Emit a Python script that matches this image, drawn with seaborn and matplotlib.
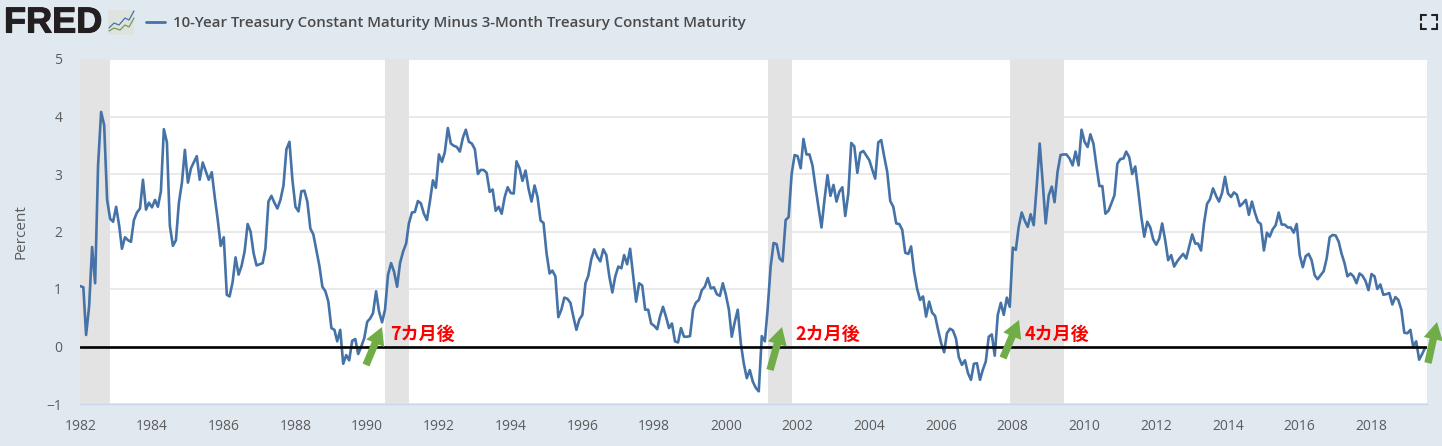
import matplotlib
matplotlib.use("Agg")
import pandas as pd
import matplotlib.pyplot as plt
import matplotlib.dates as mdates
import matplotlib.patheffects as pe
import seaborn as sns
from matplotlib.lines import Line2D
from matplotlib.patches import FancyBboxPatch

# =====================================
# Data, monthly from Jan 1982
# =====================================
y1982 = [1.05, 1.03, 0.20, 0.70, 1.73, 1.10, 3.15, 4.08, 3.85, 2.55, 2.22, 2.17]
y1983 = [2.43, 2.10, 1.70, 1.90, 1.85, 1.82, 2.20, 2.33, 2.40, 2.90, 2.38, 2.50]
y1984 = [2.42, 2.55, 2.43, 2.70, 3.78, 3.55, 2.10, 1.75, 1.85, 2.50, 2.85, 3.42]
y1985 = [2.85, 3.10, 3.20, 3.31, 2.90, 3.20, 3.05, 2.90, 3.03, 2.60, 2.20, 1.75]
y1986 = [1.90, 0.90, 0.87, 1.12, 1.55, 1.25, 1.40, 1.65, 2.13, 2.00, 1.62, 1.41]
y1987 = [1.43, 1.45, 1.70, 2.52, 2.62, 2.50, 2.40, 2.55, 2.80, 3.43, 3.56, 2.90]
y1988 = [2.43, 2.35, 2.70, 2.71, 2.52, 2.05, 1.95, 1.68, 1.40, 1.04, 0.96, 0.78]
y1989 = [0.32, 0.29, 0.09, 0.29, -0.30, -0.15, -0.24, 0.10, 0.13, -0.13, 0.00, 0.14]
y1990 = [0.43, 0.49, 0.58, 0.96, 0.61, 0.42, 0.64, 1.25, 1.45, 1.30, 1.04, 1.45]
y1991 = [1.65, 1.79, 2.14, 2.33, 2.34, 2.53, 2.49, 2.31, 2.20, 2.52, 2.89, 2.76]
y1992 = [3.34, 3.21, 3.38, 3.80, 3.53, 3.49, 3.47, 3.39, 3.63, 3.77, 3.56, 3.53]
y1993 = [3.43, 3.00, 3.07, 3.07, 3.02, 2.69, 2.73, 2.36, 2.43, 2.31, 2.60, 2.77]
y1994 = [2.67, 2.66, 3.22, 3.10, 2.88, 3.06, 2.75, 2.52, 2.80, 2.60, 2.19, 2.15]
y1995 = [1.62, 1.27, 1.32, 1.22, 0.51, 0.64, 0.85, 0.83, 0.76, 0.52, 0.29, 0.47]
y1996 = [0.55, 1.10, 1.23, 1.52, 1.69, 1.56, 1.48, 1.69, 1.59, 1.22, 0.94, 1.22]
y1997 = [1.39, 1.36, 1.59, 1.43, 1.70, 1.24, 0.78, 1.10, 1.06, 0.64, 0.64, 0.40]
y1998 = [0.36, 0.30, 0.52, 0.69, 0.52, 0.32, 0.40, 0.09, 0.07, 0.32, 0.17, 0.17]
y1999 = [0.18, 0.64, 0.76, 0.81, 0.98, 1.04, 1.19, 1.01, 1.03, 0.91, 0.88, 1.10]
y2000 = [0.90, 0.64, 0.17, 0.43, 0.64, 0.06, -0.29, -0.55, -0.41, -0.61, -0.72, -0.78]
y2001 = [0.18, 0.09, 0.64, 1.39, 1.80, 1.78, 1.53, 1.48, 2.20, 2.25, 3.00, 3.33]
y2002 = [3.31, 3.10, 3.61, 3.34, 3.34, 3.15, 2.78, 2.43, 2.07, 2.55, 2.98, 2.62]
y2003 = [2.81, 2.52, 2.69, 2.77, 2.27, 2.66, 3.54, 3.48, 3.02, 3.37, 3.40, 3.32]
y2004 = [3.24, 3.07, 2.92, 3.55, 3.59, 3.30, 3.04, 2.53, 2.43, 2.14, 2.13, 2.03]
y2005 = [1.63, 1.61, 1.74, 1.30, 1.01, 0.81, 0.87, 0.52, 0.78, 0.59, 0.53, 0.29]
y2006 = [0.06, -0.10, 0.23, 0.31, 0.28, 0.14, -0.19, -0.32, -0.24, -0.46, -0.58, -0.30]
y2007 = [-0.29, -0.58, -0.41, -0.26, 0.17, 0.21, -0.16, 0.55, 0.76, 0.55, 0.85, 0.69]
y2008 = [1.72, 1.68, 2.08, 2.33, 2.19, 2.08, 2.30, 2.11, 2.80, 3.53, 2.84, 2.14]
y2009 = [2.63, 2.78, 2.51, 3.04, 3.33, 3.34, 3.34, 3.27, 3.15, 3.39, 3.15, 3.77]
y2010 = [3.56, 3.47, 3.69, 3.53, 3.15, 2.79, 2.79, 2.31, 2.36, 2.49, 2.63, 3.18]
y2011 = [3.26, 3.27, 3.39, 3.29, 3.00, 3.13, 2.72, 2.26, 1.91, 2.17, 2.07, 1.86]
y2012 = [1.77, 1.88, 2.14, 1.85, 1.50, 1.59, 1.39, 1.48, 1.55, 1.61, 1.53, 1.74]
y2013 = [1.95, 1.79, 1.79, 1.67, 2.14, 2.48, 2.56, 2.75, 2.62, 2.52, 2.67, 2.95]
y2014 = [2.66, 2.60, 2.68, 2.64, 2.44, 2.49, 2.55, 2.29, 2.52, 2.33, 2.17, 2.13]
y2015 = [1.67, 1.98, 1.91, 2.04, 2.11, 2.33, 2.12, 2.12, 2.07, 2.07, 1.98, 2.13]
y2016 = [1.59, 1.38, 1.57, 1.61, 1.50, 1.24, 1.17, 1.24, 1.31, 1.53, 1.90, 1.94]
y2017 = [1.93, 1.82, 1.62, 1.45, 1.22, 1.27, 1.22, 1.10, 1.27, 1.23, 1.14, 0.98]
y2018 = [1.26, 1.22, 1.00, 1.08, 0.90, 0.91, 0.93, 0.73, 0.86, 0.81, 0.64, 0.24]
y2019 = [0.23, 0.29, 0.00, 0.09, -0.23, -0.13, -0.02]

spread = (y1982 + y1983 + y1984 + y1985 + y1986 + y1987 + y1988 + y1989 + y1990 + y1991
          + y1992 + y1993 + y1994 + y1995 + y1996 + y1997 + y1998 + y1999 + y2000 + y2001
          + y2002 + y2003 + y2004 + y2005 + y2006 + y2007 + y2008 + y2009 + y2010 + y2011
          + y2012 + y2013 + y2014 + y2015 + y2016 + y2017 + y2018 + y2019)
dates = pd.date_range("1982-01-01", periods=len(spread), freq="MS")

recessions = [("1982-01-01", "1982-11-01"), ("1990-07-01", "1991-03-01"),
              ("2001-03-01", "2001-11-01"), ("2007-12-01", "2009-06-01")]
year_ticks = list(range(1982, 2020, 2))
y_ticks = [-1, 0, 1, 2, 3, 4, 5]
title = "10-Year Treasury Constant Maturity Minus 3-Month Treasury Constant Maturity"
notes = ["7カ月後", "2カ月後", "4カ月後"]

# =====================================
# Style
# =====================================
W, H = 1442, 446
BG = "#e1e9f0"
BLUE = "#4572a7"
GREEN = "#70ad47"
TXT = "#5c5c5c"

sns.set_theme(style="white")
plt.rcParams["font.family"] = ["Open Sans", "DejaVu Sans"]

fig = plt.figure(figsize=(W / 100, H / 100), dpi=100, facecolor=BG)
ax = fig.add_axes([80.3 / W, (H - 404) / H, (1427 - 80.3) / W, (404 - 59) / H])
ax.set_facecolor("white")


def px(x, y):
    # picture pixels -> figure fraction
    return x / W, 1 - y / H


# =====================================
# Chart
# =====================================
ax.grid(axis="y", color="#e9e9e9", lw=1.4, zorder=1)
ax.set_axisbelow(True)
for start, end in recessions:
    ax.axvspan(pd.Timestamp(start), pd.Timestamp(end), color="#e3e3e3", lw=0, zorder=1.5)

sns.lineplot(x=dates, y=spread, color=BLUE, lw=1.9, ax=ax, zorder=3, errorbar=None)
ax.axhline(0, color="black", lw=1.9, zorder=4)

ax.set_xlim(pd.Timestamp("1982-01-01"), pd.Timestamp("2019-07-20"))
ax.set_ylim(-1, 5)
ax.set_xticks([pd.Timestamp(f"{y}-01-01") for y in year_ticks])
ax.xaxis.set_major_formatter(mdates.DateFormatter("%Y"))
ax.set_yticks(y_ticks)
ax.tick_params(axis="x", length=7, width=1, color="#ccd6eb", labelsize=10, labelcolor=TXT, pad=4)
ax.tick_params(axis="y", length=0, labelsize=10, labelcolor=TXT, pad=13)
ax.set_xlabel("")
ax.set_ylabel("Percent", fontsize=11, color=TXT, labelpad=13)
for side in ["top", "right", "left"]:
    ax.spines[side].set_visible(False)
ax.spines["bottom"].set_color("#ccd6eb")
ax.spines["bottom"].set_linewidth(1)

# red notes and green arrows, placed in picture pixels
for label, x in zip(notes, [390, 795, 1025]):
    fig.text(*px(x, 334), label, color="red", fontsize=13, fontweight="bold", va="center",
             family=["Noto Sans CJK JP", "DejaVu Sans"])

arrows = [((366, 365), (382, 327)), ((770, 370), (782, 327)),
          ((1003, 358), (1019, 320)), ((1428, 363), (1437, 322))]
for start, end in arrows:
    ax.annotate("", xy=px(*end), xytext=px(*start), xycoords="figure fraction",
                textcoords="figure fraction", annotation_clip=False, zorder=6,
                arrowprops=dict(arrowstyle="simple,head_length=0.9,head_width=1.0,tail_width=0.38",
                                color=GREEN, lw=0, shrinkA=0, shrinkB=0, mutation_scale=14))

# =====================================
# Header: logo, legend key, title, fullscreen icon
# =====================================
logo = fig.text(*px(4, 23), "FRED", color="#231f20", fontsize=26, fontweight="bold", va="center",
                family=["Liberation Sans", "DejaVu Sans"])
logo.set_path_effects([pe.withStroke(linewidth=0.8, foreground="#231f20")])
icon = FancyBboxPatch(px(108, 35), 26 / W, 25 / H, boxstyle="round,pad=0,rounding_size=0.002",
                      transform=fig.transFigure, fc="#dfe3e0", ec="none")
fig.add_artist(icon)
fig.add_artist(Line2D(*zip(px(109, 28), px(114, 23), px(119, 25), px(125, 18), px(129, 20), px(134, 11)),
                      transform=fig.transFigure, color="#4572a7", lw=0.9))
fig.add_artist(Line2D(*zip(px(109, 31), px(114, 28), px(120, 30), px(125, 25), px(129, 27), px(134, 18)),
                      transform=fig.transFigure, color="#6fa04a", lw=0.9))

fig.add_artist(Line2D(*zip(px(146, 22), px(165, 22)), transform=fig.transFigure, color=BLUE, lw=2))
fig.text(*px(173, 23), title, color="#4a4a4a", fontsize=10.8, fontweight="semibold", va="center")

for cx, cy, dx, dy in [(1421, 15, 1, 1), (1437, 15, -1, 1), (1421, 29, 1, -1), (1437, 29, -1, -1)]:
    fig.add_artist(Line2D(*zip(px(cx + 5 * dx, cy), px(cx, cy), px(cx, cy + 5 * dy)),
                          transform=fig.transFigure, color="#222222", lw=1.5, solid_joinstyle="miter"))

fig.savefig("out.png", dpi=100, facecolor=BG)
